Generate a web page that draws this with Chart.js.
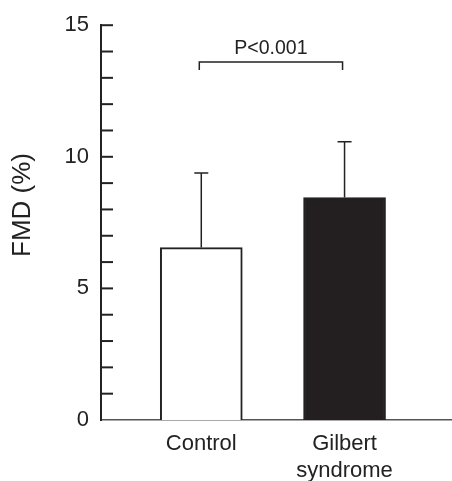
<!DOCTYPE html>
<html>
<head>
<meta charset="utf-8">
<script src="https://cdn.jsdelivr.net/npm/chart.js@4.4.1/dist/chart.umd.min.js"></script>
<style>
  body { margin: 0; background: #fff; }
  canvas { display: block; }
</style>
</head>
<body>
<canvas id="fmdChart" width="452" height="481"></canvas>
<script>
// datos
const grupos = [['Control'], ['Gilbert', 'syndrome']];
const posX = [1, 2];
const fmdMedia = [6.55, 8.45];
const fmdDE = [2.83, 2.12];
const ticksY = [0, 5, 10, 15];
const textoP = 'P<0.001';
const nivelP = 13.6;
const tituloY = 'FMD (%)';

const fuente = '"Liberation Sans", Arial, sans-serif';
const tinta = '#222';

// barras de error, marcas menores, corchete y titulo del eje
const extras = {
  id: 'extras',
  afterDatasetsDraw(chart) {
    const ctx = chart.ctx;
    const x = chart.scales.x;
    const y = chart.scales.y;
    const area = chart.chartArea;

    ctx.save();
    ctx.strokeStyle = tinta;
    ctx.fillStyle = tinta;

    // marcas hacia dentro
    ctx.lineWidth = 2;
    y.ticks.forEach(t => {
      if (t.value === 0) return;
      const py = y.getPixelForValue(t.value);
      ctx.beginPath();
      ctx.moveTo(area.left, py);
      ctx.lineTo(area.left + 12, py);
      ctx.stroke();
    });

    // error (solo hacia arriba)
    ctx.lineWidth = 1.5;
    fmdMedia.forEach((m, i) => {
      const px = x.getPixelForValue(posX[i]);
      const base = y.getPixelForValue(m);
      const top = y.getPixelForValue(m + fmdDE[i]);
      ctx.beginPath();
      ctx.moveTo(px, base);
      ctx.lineTo(px, top);
      ctx.moveTo(px - 7, top);
      ctx.lineTo(px + 7, top);
      ctx.stroke();
    });

    // corchete con P
    const by = y.getPixelForValue(nivelP);
    const x1 = x.getPixelForValue(posX[0]) - 2;
    const x2 = x.getPixelForValue(posX[1]) - 2;
    ctx.beginPath();
    ctx.moveTo(x1, by + 8);
    ctx.lineTo(x1, by);
    ctx.lineTo(x2, by);
    ctx.lineTo(x2, by + 8);
    ctx.stroke();
    ctx.font = '19.5px ' + fuente;
    ctx.textAlign = 'center';
    ctx.textBaseline = 'alphabetic';
    ctx.fillText(textoP, (x1 + x2) / 2, by - 8);

    // titulo eje y
    ctx.translate(23, 205);
    ctx.rotate(-Math.PI / 2);
    ctx.font = '26px ' + fuente;
    ctx.textBaseline = 'middle';
    ctx.fillText(tituloY, 0, 0);
    ctx.restore();
  }
};

const ctx = document.getElementById('fmdChart').getContext('2d');
new Chart(ctx, {
  type: 'bar',
  data: {
    datasets: [{
      data: posX.map((v, i) => ({ x: v, y: fmdMedia[i] })),
      backgroundColor: ['#ffffff', '#231f20'],
      borderColor: tinta,
      borderWidth: 2,
      barThickness: 82
    }]
  },
  options: {
    responsive: false,
    animation: false,
    devicePixelRatio: 1,
    layout: { padding: { top: 24, right: 0, left: 0, bottom: 0 } },
    plugins: {
      legend: { display: false },
      tooltip: { enabled: false }
    },
    scales: {
      x: {
        type: 'linear',
        min: 0.3,
        max: 2.75,
        offset: false,
        grid: { display: false, drawTicks: false },
        border: { display: true, color: '#555', width: 1.5 },
        afterBuildTicks: s => { s.ticks = posX.map(v => ({ value: v })); },
        afterFit: s => { s.height = 61; },
        ticks: {
          autoSkip: false,
          maxRotation: 0,
          padding: 10,
          color: tinta,
          font: { family: fuente, size: 22, lineHeight: 1.23 },
          callback: v => grupos[posX.indexOf(v)]
        }
      },
      y: {
        min: 0,
        max: 15,
        grid: { display: false, drawTicks: false },
        border: { display: true, color: tinta, width: 2 },
        afterFit: s => { s.width = 101; },
        ticks: {
          stepSize: 1,
          autoSkip: false,
          padding: 12,
          color: tinta,
          font: { family: fuente, size: 22 },
          callback: v => ticksY.includes(v) ? String(v) : ''
        }
      }
    }
  },
  plugins: [extras]
});
</script>
</body>
</html>
